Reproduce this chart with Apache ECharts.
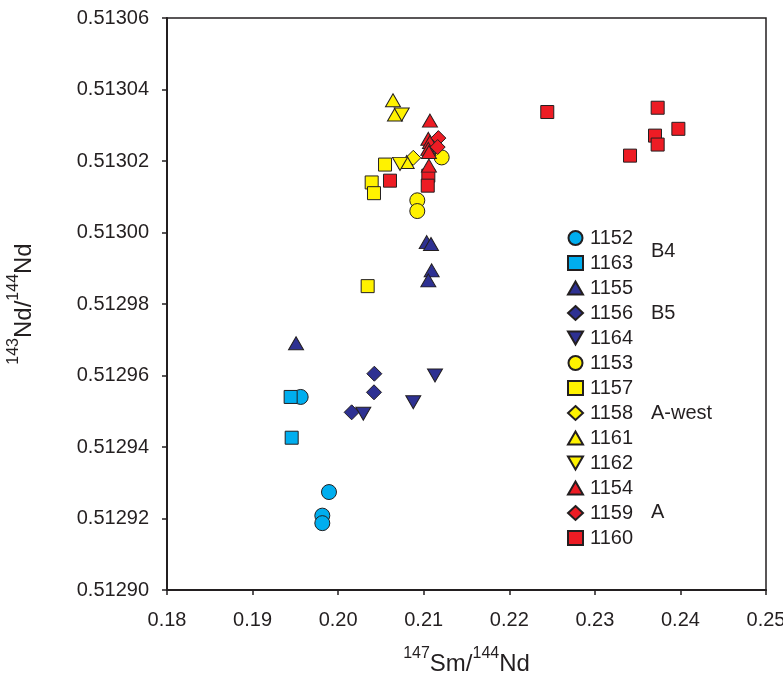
<!DOCTYPE html>
<html><head><meta charset="utf-8">
<script src="https://cdn.jsdelivr.net/npm/echarts@6/dist/echarts.min.js"></script>
<style>html,body{margin:0;padding:0;background:#fff}#c{width:783px;height:683px}</style>
</head><body><div id="c"></div>
<script>
// Data: [147Sm/144Nd, 143Nd/144Nd]
const d1152 = [[0.19562,0.512954],[0.19893,0.5129274],[0.19815,0.5129208],[0.19815,0.5129187]];
const d1163 = [[0.19445,0.512954],[0.19457,0.5129426]];
const d1155 = [[0.19508,0.512969],[0.21035,0.5129973],[0.21085,0.5129968],[0.21093,0.5129894],[0.21054,0.5129866]];
const d1156 = [[0.20423,0.5129605],[0.20419,0.5129553],[0.20158,0.5129497]];
const d1164 = [[0.20294,0.5129493],[0.20878,0.5129525],[0.21132,0.51296]];
const d1153 = [[0.20925,0.513009],[0.20925,0.513006],[0.21210,0.513021]];
const d1157 = [[0.20548,0.513019],[0.20392,0.513014],[0.20419,0.513011],[0.20345,0.512985]];
const d1158 = [[0.20878,0.5130209]];
const d1161 = [[0.20641,0.513037],[0.20664,0.513033],[0.20801,0.5130197]];
const d1162 = [[0.20743,0.513033],[0.20723,0.5130192]];
const d1154 = [[0.21073,0.5130313],[0.21054,0.5130262],[0.21073,0.5130253],[0.21054,0.5130234],[0.21061,0.5130225],[0.21061,0.5130187]];
const d1159 = [[0.21171,0.5130264],[0.21163,0.5130239]];
const d1160 = [[0.20606,0.5130145],[0.21054,0.5130159],[0.21047,0.5130131],[0.22444,0.5130337],[0.23734,0.5130349],[0.23976,0.513029],[0.23703,0.5130271],[0.23734,0.5130246],[0.23411,0.5130215]];

const legendOrder = ['1152','1163','1155','1156','1164','1153','1157','1158','1161','1162','1154','1159','1160'];
const groupLabels = ['B4','B5','A-west','A'];

const CYAN = '#00AEEF', NAVY = '#2E3192', YEL = '#FFF200', RED = '#ED1C24';
const TRI_DOWN = 'path://M0,0 L10,0 L5,8.66 Z';
const TRI_UP = 'path://M5,0 L10,8.66 L0,8.66 Z';

function sc(name, data, symbol, color, size) {
  return {
    name: name, type: 'scatter', data: data, symbol: symbol, symbolSize: size,
    itemStyle: { color: color, borderColor: '#231F20', borderWidth: 1, opacity: 1 },
    emphasis: { disabled: true }
  };
}

const series = [
  sc('1152', d1152, 'circle', CYAN, 15),
  sc('1163', d1163, 'rect', CYAN, 13),
  sc('1153', d1153, 'circle', YEL, 15),
  sc('1157', d1157, 'rect', YEL, 13),
  sc('1158', d1158, 'diamond', YEL, 15),
  sc('1161', d1161, TRI_UP, YEL, [15, 13]),
  sc('1162', d1162, TRI_DOWN, YEL, [15, 13]),
  sc('1155', d1155, TRI_UP, NAVY, [15, 13]),
  sc('1156', d1156, 'diamond', NAVY, 15),
  sc('1164', d1164, TRI_DOWN, NAVY, [15, 13]),
  sc('1160', d1160, 'rect', RED, 13),
  sc('1154', d1154, TRI_UP, RED, [15, 13]),
  sc('1159', d1159, 'diamond', RED, 15)
];

const FONT = 'Liberation Sans, Arial, Helvetica, sans-serif';
const INK = '#231F20';
const titleRich = {
  n: { fontSize: 24, color: INK, fontFamily: FONT, lineHeight: 30, verticalAlign: 'bottom' },
  sup: { fontSize: 16, color: INK, fontFamily: FONT, lineHeight: 30, verticalAlign: 'top', padding: [0, 0, 11, 0] }
};
const chart = echarts.init(document.getElementById('c'), null, { renderer: 'canvas' });
chart.setOption({
  animation: false,
  backgroundColor: '#fff',
  textStyle: { fontFamily: FONT },
  grid: { left: 167, right: 17, top: 18, bottom: 93, containLabel: false, outerBoundsMode: 'none',
          show: true, borderColor: INK, borderWidth: 1.5, backgroundColor: 'transparent' },
  xAxis: {
    type: 'value', min: 0.18, max: 0.25, interval: 0.01,
    axisLine: { show: true, onZero: false, lineStyle: { color: INK, width: 2 } },
    axisTick: { show: true, inside: false, length: 5, lineStyle: { color: INK, width: 1.5 } },
    splitLine: { show: false },
    axisLabel: { fontSize: 20, color: INK, margin: 20, fontFamily: FONT, formatter: v => v.toFixed(2) },
    name: '{sup|147}{n|Sm/}{sup|144}{n|Nd}', nameLocation: 'middle', nameGap: 56,
    nameTextStyle: { fontFamily: FONT, rich: titleRich }
  },
  yAxis: {
    type: 'value', min: 0.5129, max: 0.51306, interval: 0.00002,
    axisLine: { show: true, onZero: false, lineStyle: { color: INK, width: 2 } },
    axisTick: { show: true, inside: false, length: 5, lineStyle: { color: INK, width: 1.5 } },
    splitLine: { show: false },
    axisLabel: { fontSize: 20, color: INK, margin: 18, fontFamily: FONT, formatter: v => v.toFixed(5) },
    name: '{sup|143}{n|Nd/}{sup|144}{n|Nd}', nameLocation: 'middle', nameGap: 131, nameRotate: 90,
    nameTextStyle: { fontFamily: FONT, rich: titleRich }
  },
  legend: {
    orient: 'vertical', left: 562, top: 223,
    data: legendOrder, itemWidth: 15, itemHeight: 14, itemGap: 5, itemSymbolKeepAspect: true,
    textStyle: { fontSize: 20, color: INK, fontFamily: FONT, padding: [0, 0, 0, 2] },
    selectedMode: false
  },
  graphic: [
    { type: 'text', left: 651, top: 241, style: { text: groupLabels[0], fontSize: 20, fill: INK, fontFamily: FONT } },
    { type: 'text', left: 651, top: 303, style: { text: groupLabels[1], fontSize: 20, fill: INK, fontFamily: FONT } },
    { type: 'text', left: 651, top: 403, style: { text: groupLabels[2], fontSize: 20, fill: INK, fontFamily: FONT } },
    { type: 'text', left: 651, top: 502, style: { text: groupLabels[3], fontSize: 20, fill: INK, fontFamily: FONT } }
  ],
  series: series
});
</script></body></html>
